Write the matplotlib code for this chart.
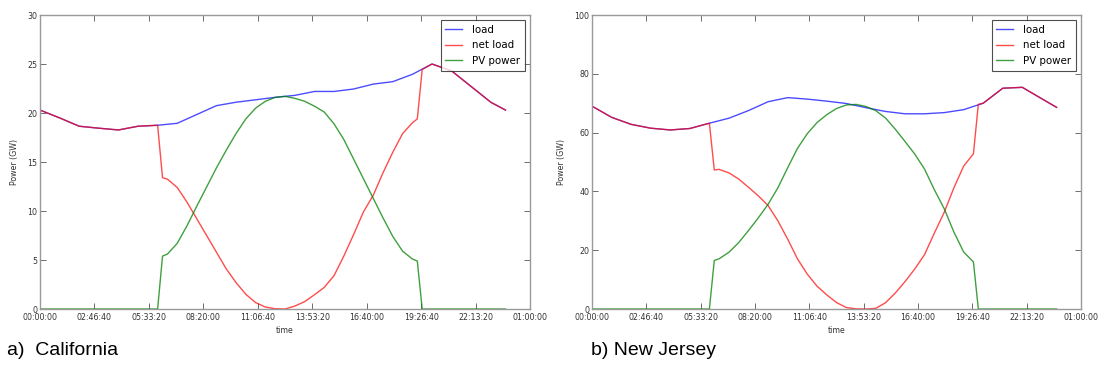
import matplotlib
matplotlib.use("Agg")
import matplotlib.pyplot as plt
from matplotlib.ticker import FuncFormatter, MultipleLocator

# ---- California --------------------------------------------------------
ca_hours = list(range(24)) + [23.75]
ca_load = [20.3, 19.5, 18.65, 18.45, 18.27, 18.65, 18.75, 18.95, 19.85, 20.75,
           21.1, 21.35, 21.6, 21.8, 22.2, 22.2, 22.45, 22.95, 23.2, 23.95,
           25.0, 24.3, 22.7, 21.1, 20.3]
ca_sun_hours = [6.0, 6.25, 6.5, 7.0, 7.5, 8.0, 8.5, 9.0, 9.5, 10.0, 10.5, 11.0,
                11.5, 12.0, 12.5, 13.0, 13.5, 14.0, 14.5, 15.0, 15.5, 16.0,
                16.5, 17.0, 17.5, 18.0, 18.5, 19.0, 19.25, 19.5]
ca_pv = [0.0, 5.4, 5.6, 6.7, 8.5, 10.5, 12.45, 14.4, 16.2, 17.9, 19.4, 20.5,
         21.2, 21.6, 21.7, 21.5, 21.2, 20.7, 20.1, 18.9, 17.3, 15.3,
         13.3, 11.3, 9.3, 7.4, 5.9, 5.1, 4.9, 0.0]
ca_net = [18.75, 13.4, 13.25, 12.4, 10.9, 9.2, 7.5, 5.8, 4.1, 2.7, 1.5, 0.65,
          0.2, 0.03, 0.0, 0.3, 0.75, 1.45, 2.2, 3.4, 5.4, 7.6,
          9.9, 11.6, 13.9, 16.0, 17.9, 19.0, 19.4, 24.45]

# ---- New Jersey --------------------------------------------------------
nj_hours = list(range(24)) + [23.75]
nj_load = [69.0, 65.2, 62.8, 61.5, 60.9, 61.4, 63.2, 64.9, 67.5, 70.5,
           71.9, 71.4, 70.7, 69.9, 68.5, 67.2, 66.4, 66.4, 66.8, 67.8,
           70.0, 75.1, 75.4, 71.5, 68.6]
nj_sun_hours = [6.0, 6.25, 6.5, 7.0, 7.5, 8.0, 8.5, 9.0, 9.5, 10.0, 10.5, 11.0,
                11.5, 12.0, 12.5, 13.0, 13.5, 14.0, 14.5, 15.0, 15.5, 16.0,
                16.5, 17.0, 17.5, 18.0, 18.5, 19.0, 19.5, 19.75]
nj_pv = [0.0, 16.5, 17.1, 19.3, 22.6, 26.7, 31.0, 35.6, 41.2, 48.0, 54.6, 59.6,
         63.4, 66.1, 68.2, 69.4, 69.6, 68.9, 67.5, 65.0, 61.2, 57.0,
         52.7, 47.6, 40.6, 34.2, 26.2, 19.4, 16.0, 0.0]
nj_net = [63.2, 47.3, 47.5, 46.3, 44.2, 41.4, 38.5, 35.2, 30.0, 23.8, 17.1, 11.9,
          7.8, 4.8, 2.2, 0.5, 0.05, 0.0, 0.2, 2.1, 5.4, 9.3,
          13.6, 18.5, 25.8, 32.8, 41.2, 48.6, 52.8, 69.6]

TICK_COLOR = "#333333"
FS = 5.7


def hms(x, _pos):
    s = int(round(x)) % 86400
    return f"{s // 3600:02d}:{(s % 3600) // 60:02d}:{s % 60:02d}"


def draw(ax, hours, load, sun_h, pv, net, ymax, ystep):
    t_load = [h * 3600 for h in hours]
    # net load equals the load outside the daylight window
    before = [(h, v) for h, v in zip(hours, load) if h < sun_h[0]]
    after = [(h, v) for h, v in zip(hours, load) if h > sun_h[-1]]
    net_h = [h for h, _ in before] + sun_h + [h for h, _ in after]
    net_v = [v for _, v in before] + net + [v for _, v in after]
    pv_h = [hours[0]] + sun_h + [hours[-1]]
    pv_v = [0.0] + pv + [0.0]

    ax.plot(t_load, load, color="b", lw=1.0, alpha=0.7, label="load")
    ax.plot([h * 3600 for h in net_h], net_v, color="r", lw=1.0, alpha=0.7,
            label="net load")
    ax.plot([h * 3600 for h in pv_h], pv_v, color="g", lw=1.0, alpha=0.75,
            label="PV power")

    ax.set_xlim(0, 90000)
    ax.set_ylim(0, ymax)
    ax.xaxis.set_major_locator(MultipleLocator(10000))
    ax.xaxis.set_major_formatter(FuncFormatter(hms))
    ax.yaxis.set_major_locator(MultipleLocator(ystep))
    ax.tick_params(direction="in", length=4, width=0.6, top=True, right=True,
                   labelsize=FS, labelcolor=TICK_COLOR, color="#555555", pad=2)
    ax.tick_params(axis="x", pad=3)
    for sp in ax.spines.values():
        sp.set_color("#999999")
        sp.set_linewidth(1.0)
    ax.set_xlabel("time", fontsize=FS, color=TICK_COLOR, labelpad=3)
    ax.set_ylabel("Power (GW)", fontsize=FS, color=TICK_COLOR, labelpad=6)
    leg = ax.legend(loc="upper right", fontsize=7.4, fancybox=False,
                    borderaxespad=0.5, handlelength=1.6, handletextpad=1.0,
                    labelspacing=0.55, borderpad=0.45)
    leg.get_frame().set_edgecolor("#222222")
    leg.get_frame().set_linewidth(0.8)


fig = plt.figure(figsize=(11.06, 3.69), dpi=100)
ax1 = fig.add_axes([0.0362, 0.1626, 0.443, 0.7967])
ax2 = fig.add_axes([0.5353, 0.1626, 0.4421, 0.7967])

draw(ax1, ca_hours, ca_load, ca_sun_hours, ca_pv, ca_net, 30, 5)
draw(ax2, nj_hours, nj_load, nj_sun_hours, nj_pv, nj_net, 100, 20)

fig.text(0.006, 0.038, "a)  California", fontsize=14,
         family="Liberation Sans", va="baseline")
fig.text(0.534, 0.038, "b) New Jersey", fontsize=14,
         family="Liberation Sans", va="baseline")

fig.savefig("out.png", dpi=100)
